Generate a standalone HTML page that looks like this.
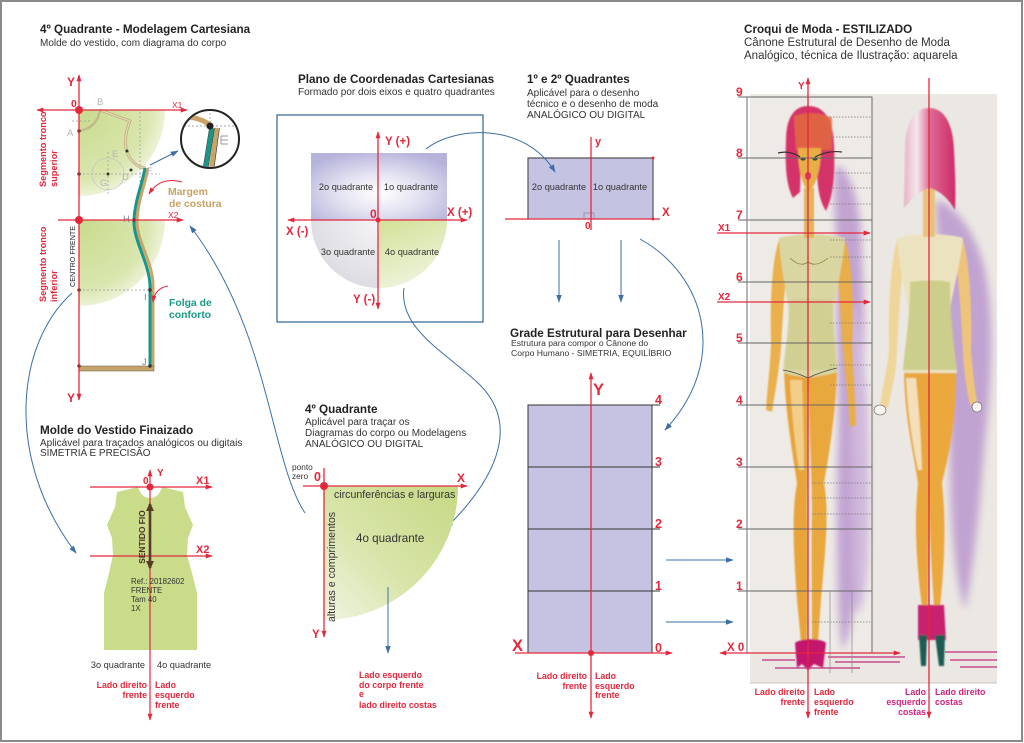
<!DOCTYPE html>
<html><head><meta charset="utf-8">
<style>
html,body{margin:0;padding:0;background:#fff;}
svg{display:block;}
text{font-family:"Liberation Sans",Arial,sans-serif;}
.t{font-weight:bold;font-size:11.7px;fill:#222;}
.s{font-size:10px;fill:#333;}
.s2{font-size:11.5px;fill:#333;}
.q{font-size:9.2px;fill:#333;}
.rl{font-weight:bold;font-size:8.8px;fill:#e3283c;}
.mg{font-weight:bold;font-size:8.8px;fill:#d0237e;}
.ax{font-weight:bold;fill:#e3283c;}
.gl{font-size:9.5px;fill:#b5b5b5;}
</style></head><body>
<svg width="1024" height="743" viewBox="0 0 1024 743" xmlns="http://www.w3.org/2000/svg">
<defs>
<marker id="r" viewBox="0 0 10 10" refX="9" refY="5" markerWidth="7" markerHeight="7" markerUnits="userSpaceOnUse" orient="auto-start-reverse"><path d="M0,1.5 L10,5 L0,8.5 z" fill="#e3283c"/></marker>
<marker id="b" viewBox="0 0 10 10" refX="9" refY="5" markerWidth="8" markerHeight="8" markerUnits="userSpaceOnUse" orient="auto-start-reverse"><path d="M0,1.5 L10,5 L0,8.5 z" fill="#3b6fa6"/></marker>
<marker id="br" viewBox="0 0 10 10" refX="8" refY="5" markerWidth="9" markerHeight="9" markerUnits="userSpaceOnUse" orient="auto-start-reverse"><path d="M0,0.5 L10,5 L0,9.5 z" fill="#5b3a29"/></marker>
<radialGradient id="gq1" cx="79" cy="110" r="86" gradientUnits="userSpaceOnUse"><stop offset="0" stop-color="#c8db8c"/><stop offset="0.8" stop-color="#d9e6ae"/><stop offset="1" stop-color="#ecf2d6"/></radialGradient>
<radialGradient id="gq2" cx="79" cy="220" r="86" gradientUnits="userSpaceOnUse"><stop offset="0" stop-color="#c8db8c"/><stop offset="0.8" stop-color="#d9e6ae"/><stop offset="1" stop-color="#ecf2d6"/></radialGradient>
<radialGradient id="lav" cx="0.5" cy="0.6" r="0.65"><stop offset="0" stop-color="#ffffff"/><stop offset="0.45" stop-color="#e4e3f2"/><stop offset="1" stop-color="#b5b3da"/></radialGradient>
<radialGradient id="gry" cx="379" cy="220" r="70" gradientUnits="userSpaceOnUse"><stop offset="0" stop-color="#f6f6f8"/><stop offset="1" stop-color="#dcdce2"/></radialGradient>
<linearGradient id="grn" x1="0" y1="0" x2="0.4" y2="1"><stop offset="0" stop-color="#d2e196"/><stop offset="1" stop-color="#eef3dc"/></linearGradient>
<linearGradient id="g4" x1="1" y1="0" x2="0" y2="1"><stop offset="0" stop-color="#c6d984"/><stop offset="0.55" stop-color="#d7e4a8"/><stop offset="1" stop-color="#f0f4e2"/></linearGradient>
<linearGradient id="hairb" x1="0" y1="0" x2="1" y2="0"><stop offset="0" stop-color="#e7b3c6"/><stop offset="0.25" stop-color="#f3e8ec"/><stop offset="0.5" stop-color="#de6b96"/><stop offset="1" stop-color="#cf2a66"/></linearGradient>
<filter id="f1" x="-10%" y="-10%" width="120%" height="120%"><feGaussianBlur stdDeviation="0.9"/></filter>
<filter id="f4" x="-50%" y="-20%" width="200%" height="140%"><feGaussianBlur stdDeviation="4"/></filter>
<clipPath id="cc"><circle cx="210" cy="139" r="28"/></clipPath>
</defs>
<rect x="0" y="0" width="1024" height="743" fill="#fff"/>
<rect x="1" y="1" width="1021" height="740" fill="none" stroke="#8a8a8a" stroke-width="2"/>

<!-- ============ LEFT TOP: 4º Quadrante modelagem ============ -->
<text x="40" y="33" class="t">4º Quadrante - Modelagem Cartesiana</text>
<text x="40" y="46" class="s">Molde do vestido, com diagrama do corpo</text>

<path d="M79,110 H165 A86,86 0 0 1 79,196 Z" fill="url(#gq1)"/>
<path d="M79,220 H165 A86,86 0 0 1 79,306 Z" fill="url(#gq2)"/>

<g stroke="#9a9a9a" stroke-width="0.7" stroke-dasharray="2,2" fill="none">
<line x1="72" y1="121" x2="92" y2="121"/>
<line x1="79" y1="174" x2="160" y2="174"/>
<line x1="140" y1="112" x2="140" y2="182"/>
<line x1="108" y1="152" x2="108" y2="196"/>
<line x1="79" y1="290" x2="150" y2="290"/>
</g>
<circle cx="108" cy="174" r="16" fill="none" stroke="#c4c4c4" stroke-width="0.7"/>

<path d="M79,131 Q97,128 100,110" stroke="#c4b98c" stroke-width="2.4" fill="none"/>
<path d="M100,110 L130,121 C124,135 124,150 130,158 C135,165 140,168 146,168" stroke="#c4b483" stroke-width="3" fill="none"/>
<path d="M100,110 L130,121 C124,135 124,150 130,158 C135,165 140,168 146,168" stroke="#e6e0bd" stroke-width="1" fill="none"/>
<path d="M148,168 C145,185 138,200 137,220 C136,240 153,262 153,285 L153,367" stroke="#c9a468" stroke-width="3" fill="none"/>
<path d="M145,168 C142,185 135,200 134,220 C133,240 149,262 150,285 L150,366" stroke="#17978a" stroke-width="3" fill="none"/>
<rect x="79" y="366" width="75" height="5" fill="#c4a46a" stroke="#6a5a3a" stroke-width="0.5"/>

<g fill="#333">
<circle cx="79" cy="131" r="1.7"/><circle cx="79" cy="174" r="1.7"/><circle cx="79" cy="290" r="1.7"/>
<circle cx="79" cy="366" r="1.7"/><circle cx="150" cy="366" r="1.7"/><circle cx="150" cy="290" r="1.7"/>
<circle cx="108" cy="174" r="1.5"/><circle cx="131" cy="170" r="1.5"/><circle cx="127" cy="151" r="1.5"/>
<circle cx="134" cy="220" r="1.7"/>
</g>
<text x="67" y="136" class="gl">A</text>
<text x="97" y="105" class="gl">B</text>
<text x="112" y="157" class="gl">E</text>
<text x="122" y="180" class="gl">D</text>
<text x="100" y="186" class="gl">G</text>
<text x="147" y="174" class="gl">F</text>
<text x="123" y="222" class="gl" fill="#888" style="fill:#888">H</text>
<text x="144" y="300" class="gl" style="fill:#888">I</text>
<text x="142" y="365" class="gl" style="fill:#888">J</text>

<!-- axes -->
<line x1="79" y1="75" x2="79" y2="400" stroke="#e3283c" stroke-width="1.3" marker-start="url(#r)" marker-end="url(#r)"/>
<line x1="37" y1="110" x2="187" y2="110" stroke="#e3283c" stroke-width="1.3" marker-start="url(#r)" marker-end="url(#r)"/>
<line x1="58" y1="220" x2="183" y2="220" stroke="#e3283c" stroke-width="1.3" marker-end="url(#r)"/>
<circle cx="79" cy="110" r="4" fill="#e3283c"/>
<circle cx="79" cy="220" r="4" fill="#e3283c"/>
<text x="67" y="86" class="ax" font-size="12">Y</text>
<text x="71" y="107" class="ax" font-size="10.5">0</text>
<text x="172" y="108" class="ax" font-size="8.5" style="font-weight:normal">X1</text>
<text x="168" y="218" class="ax" font-size="8.5" style="font-weight:normal">X2</text>
<text x="67" y="402" class="ax" font-size="12">Y</text>

<text transform="rotate(-90 46 187)" x="46" y="187" font-size="9.2" font-weight="bold" fill="#e3283c">Segmento tronco</text>
<text transform="rotate(-90 57 187)" x="57" y="187" font-size="9.2" font-weight="bold" fill="#e3283c">superior</text>
<text transform="rotate(-90 46 302)" x="46" y="302" font-size="9.2" font-weight="bold" fill="#e3283c">Segmento tronco</text>
<text transform="rotate(-90 57 302)" x="57" y="302" font-size="9.2" font-weight="bold" fill="#e3283c">inferior</text>
<text transform="rotate(-90 75 287)" x="75" y="287" font-size="7.2" fill="#222">CENTRO FRENTE</text>

<!-- inset circle -->
<circle cx="210" cy="139" r="29" fill="#fff" stroke="#222" stroke-width="2"/>
<g clip-path="url(#cc)">
<line x1="180" y1="126" x2="240" y2="126" stroke="#888" stroke-dasharray="2,2" stroke-width="0.7"/>
<line x1="210" y1="105" x2="210" y2="125" stroke="#888" stroke-dasharray="2,2" stroke-width="0.7"/>
<path d="M180,117 Q198,116 210,125" stroke="#c9a468" stroke-width="5" fill="none"/>
<path d="M217,128 L211,172" stroke="#c9a468" stroke-width="5"/>
<path d="M212,128 L205,172" stroke="#17978a" stroke-width="4.5"/>
<path d="M209.5,128 L202.5,172 M214.5,128 L207.5,172 M219.5,128 L213.5,172" stroke="#333" stroke-width="0.6"/>
<circle cx="210" cy="126" r="3.5" fill="#222"/>
<path d="M221,136 h7 M221,140 h7 M221,144 h7 M221,136 v8" stroke="#999" stroke-width="1"/>
</g>
<line x1="150" y1="165" x2="178" y2="151" stroke="#3b6fa6" stroke-width="1" marker-end="url(#b)"/>

<path d="M182,182 Q160,176 149,194" stroke="#e3283c" stroke-width="1" fill="none" marker-end="url(#r)"/>
<path d="M168,286 Q155,288 153,302" stroke="#e3283c" stroke-width="1" fill="none" marker-end="url(#r)"/>
<text x="168" y="195" font-size="10.4" font-weight="bold" fill="#c7a162">Margem</text>
<text x="169" y="207" font-size="10.4" font-weight="bold" fill="#c7a162">de costura</text>
<text x="169" y="306" font-size="10.4" font-weight="bold" fill="#1a9a86">Folga de</text>
<text x="169" y="318" font-size="10.4" font-weight="bold" fill="#1a9a86">conforto</text>

<!-- blue connector arcs left -->
<path d="M72,293 C15,345 5,460 76,553" stroke="#3b6fa6" stroke-width="1" fill="none" marker-end="url(#b)"/>
<path d="M305,513 C270,460 270,330 190,226" stroke="#3b6fa6" stroke-width="1" fill="none" marker-end="url(#b)"/>

<!-- ============ LEFT BOTTOM: Molde do vestido ============ -->
<text x="40" y="434" class="t">Molde do Vestido Finaizado</text>
<text x="40" y="446" class="s">Aplicável para traçados analógicos ou digitais</text>
<text x="40" y="456" class="s">SIMETRIA E PRECISÃO</text>

<path d="M117,492 L138,487 C140,494 144,498 150,498 C156,498 160,494 162,487 L183,492 L185,507 L193,525 L188,538 L187,555 L192,573 L197,593 L197,650 L104,650 L104,593 L109,573 L113,555 L112,538 L107,525 L115,507 Z" fill="#c8dc8a"/>
<line x1="150" y1="470" x2="150" y2="720" stroke="#e3283c" stroke-width="1.2" marker-start="url(#r)" marker-end="url(#r)"/>
<line x1="90" y1="487" x2="212" y2="487" stroke="#e3283c" stroke-width="1.2" marker-end="url(#r)"/>
<line x1="90" y1="556" x2="212" y2="556" stroke="#e3283c" stroke-width="1.2" marker-end="url(#r)"/>
<circle cx="150" cy="487" r="3.5" fill="#e3283c"/>
<text x="157" y="476" class="ax" font-size="10">Y</text>
<text x="143" y="484" class="ax" font-size="10">0</text>
<text x="196" y="484" class="ax" font-size="11">X1</text>
<text x="196" y="553" class="ax" font-size="11">X2</text>
<line x1="150" y1="504" x2="150" y2="568" stroke="#5b3a29" stroke-width="2.6" marker-start="url(#br)" marker-end="url(#br)"/>
<text transform="rotate(-90 145 537)" x="145" y="537" text-anchor="middle" font-size="8.4" font-weight="bold" fill="#4a3020">SENTIDO FIO</text>
<text x="131" y="584" font-size="7.8" fill="#333">Ref.: 20182602</text>
<text x="131" y="593" font-size="7.8" fill="#333">FRENTE</text>
<text x="131" y="602" font-size="7.8" fill="#333">Tam 40</text>
<text x="131" y="611" font-size="7.8" fill="#333">1X</text>
<text x="145" y="668" text-anchor="end" class="q">3o quadrante</text>
<text x="157" y="668" class="q">4o quadrante</text>
<text x="147" y="688" text-anchor="end" class="rl">Lado direito</text>
<text x="147" y="698" text-anchor="end" class="rl">frente</text>
<text x="155" y="688" class="rl">Lado</text>
<text x="155" y="698" class="rl">esquerdo</text>
<text x="155" y="708" class="rl">frente</text>

<!-- ============ PLANO ============ -->
<text x="298" y="83" class="t">Plano de Coordenadas Cartesianas</text>
<text x="298" y="95" class="s">Formado por dois eixos e quatro quadrantes</text>
<rect x="277" y="115" width="206" height="207" fill="none" stroke="#3f6e9c" stroke-width="1.3"/>
<rect x="311" y="153" width="136" height="67" fill="url(#lav)"/>
<path d="M311,220 A68,68 0 0 0 379,288 L379,220 Z" fill="url(#gry)"/>
<path d="M379,220 L379,288 A68,68 0 0 0 447,220 Z" fill="url(#grn)"/>
<line x1="378" y1="132" x2="378" y2="309" stroke="#e3283c" stroke-width="1.3" marker-start="url(#r)" marker-end="url(#r)"/>
<line x1="288" y1="220" x2="467" y2="220" stroke="#e3283c" stroke-width="1.3" marker-start="url(#r)" marker-end="url(#r)"/>
<circle cx="378" cy="220" r="2.5" fill="#e3283c"/>
<text x="385" y="145" class="ax" font-size="11.5">Y (+)</text>
<text x="353" y="303" class="ax" font-size="11.5">Y (-)</text>
<text x="447" y="216" class="ax" font-size="11.5">X (+)</text>
<text x="286" y="235" class="ax" font-size="11.5">X (-)</text>
<text x="370" y="218" class="ax" font-size="12">0</text>
<text x="346" y="190" text-anchor="middle" class="q">2o quadrante</text>
<text x="411" y="190" text-anchor="middle" class="q">1o quadrante</text>
<text x="348" y="255" text-anchor="middle" class="q">3o quadrante</text>
<text x="412" y="255" text-anchor="middle" class="q">4o quadrante</text>

<!-- ============ 1º e 2º ============ -->
<text x="527" y="83" class="t">1º e 2º Quadrantes</text>
<text x="527" y="96" class="s">Aplicável para o desenho</text>
<text x="527" y="107" class="s">técnico e o desenho de moda</text>
<text x="527" y="118" class="s">ANALÓGICO OU DIGITAL</text>
<rect x="528" y="158" width="125" height="61" fill="#c5c3e2"/>
<path d="M528,219 V158 H653 V219" fill="none" stroke="#555" stroke-width="1.2"/>
<rect x="584" y="213" width="10" height="6" fill="none" stroke="#888" stroke-width="0.7"/>
<line x1="591" y1="137" x2="591" y2="230" stroke="#e3283c" stroke-width="1.3"/>
<line x1="505" y1="219" x2="660" y2="219" stroke="#e3283c" stroke-width="1.3"/>
<circle cx="653" cy="158" r="1.5" fill="#e3283c"/><circle cx="653" cy="219" r="1.5" fill="#e3283c"/>
<text x="595" y="145" class="ax" font-size="11">y</text>
<text x="662" y="216" class="ax" font-size="11.5">X</text>
<text x="585" y="229" class="ax" font-size="10">0</text>
<text x="559" y="190" text-anchor="middle" class="q">2o quadrante</text>
<text x="620" y="190" text-anchor="middle" class="q">1o quadrante</text>

<!-- blue connectors middle -->
<path d="M426,149 C455,126 525,122 555,172" stroke="#3b6fa6" stroke-width="1" fill="none" marker-end="url(#b)"/>
<line x1="559" y1="240" x2="559" y2="302" stroke="#3b6fa6" stroke-width="1" marker-end="url(#b)"/>
<line x1="621" y1="240" x2="621" y2="302" stroke="#3b6fa6" stroke-width="1" marker-end="url(#b)"/>
<path d="M640,239 C705,275 730,360 665,430" stroke="#3b6fa6" stroke-width="1" fill="none" marker-end="url(#b)"/>
<path d="M404,288 C398,330 450,355 480,385 C515,420 505,470 446,528" stroke="#3b6fa6" stroke-width="1" fill="none" marker-end="url(#b)"/>

<!-- ============ GRADE ============ -->
<text x="510" y="337" class="t">Grade Estrutural para Desenhar</text>
<text x="511" y="346" font-size="8.6" fill="#333">Estrutura para compor o Cânone do</text>
<text x="511" y="356" font-size="8.6" fill="#333">Corpo Humano - SIMETRIA, EQUILÍBRIO</text>
<rect x="528" y="405" width="124" height="248" fill="#c6c3e2" stroke="#333" stroke-width="1"/>
<g stroke="#333" stroke-width="1">
<line x1="528" y1="405" x2="660" y2="405"/>
<line x1="528" y1="467" x2="660" y2="467"/>
<line x1="528" y1="529" x2="660" y2="529"/>
<line x1="528" y1="591" x2="660" y2="591"/>
</g>
<line x1="591" y1="373" x2="591" y2="718" stroke="#e3283c" stroke-width="1.3" marker-start="url(#r)" marker-end="url(#r)"/>
<line x1="515" y1="653" x2="672" y2="653" stroke="#e3283c" stroke-width="1.3" marker-end="url(#r)"/>
<circle cx="591" cy="653" r="3" fill="#e3283c"/>
<text x="593" y="395" class="ax" font-size="16.5">Y</text>
<text x="512" y="651" class="ax" font-size="16.5">X</text>
<text x="655" y="404" class="ax" font-size="12.5">4</text>
<text x="655" y="466" class="ax" font-size="12.5">3</text>
<text x="655" y="528" class="ax" font-size="12.5">2</text>
<text x="655" y="590" class="ax" font-size="12.5">1</text>
<text x="655" y="652" class="ax" font-size="12.5">0</text>
<text x="587" y="679" text-anchor="end" class="rl">Lado direito</text>
<text x="587" y="689" text-anchor="end" class="rl">frente</text>
<text x="595" y="679" class="rl">Lado</text>
<text x="595" y="689" class="rl">esquerdo</text>
<text x="595" y="698" class="rl">frente</text>
<line x1="666" y1="560" x2="733" y2="560" stroke="#3b6fa6" stroke-width="1" marker-end="url(#b)"/>
<line x1="666" y1="622" x2="733" y2="622" stroke="#3b6fa6" stroke-width="1" marker-end="url(#b)"/>

<!-- ============ 4º QUADRANTE ============ -->
<text x="305" y="413" class="t">4º Quadrante</text>
<text x="305" y="425" class="s">Aplicável para traçar os</text>
<text x="305" y="436" class="s">Diagramas do corpo ou Modelagens</text>
<text x="305" y="447" class="s">ANALÓGICO OU DIGITAL</text>
<path d="M324,486 H458 A134,134 0 0 1 324,620 Z" fill="url(#g4)"/>
<line x1="303" y1="486" x2="467" y2="486" stroke="#e3283c" stroke-width="1.3" marker-end="url(#r)"/>
<line x1="324" y1="468" x2="324" y2="637" stroke="#e3283c" stroke-width="1.3" marker-end="url(#r)"/>
<circle cx="324" cy="486" r="4" fill="#e3283c"/>
<text x="292" y="470" font-size="8.3" fill="#333">ponto</text>
<text x="292" y="479" font-size="8.3" fill="#333">zero</text>
<text x="314" y="481" class="ax" font-size="12.5">0</text>
<text x="457" y="482" class="ax" font-size="12">X</text>
<text x="312" y="638" class="ax" font-size="11.5">Y</text>
<text x="334" y="498" font-size="10.6" fill="#333">circunferências e larguras</text>
<text x="356" y="542" font-size="11.6" fill="#333">4o quadrante</text>
<text transform="rotate(-90 335 622)" x="335" y="622" font-size="10.6" fill="#333">alturas e comprimentos</text>
<line x1="388" y1="587" x2="388" y2="653" stroke="#3b6fa6" stroke-width="1" marker-end="url(#b)"/>
<text x="359" y="678" class="rl">Lado esquerdo</text>
<text x="359" y="688" class="rl">do corpo frente</text>
<text x="359" y="697" class="rl">e</text>
<text x="359" y="708" class="rl">lado direito costas</text>

<!-- ============ CROQUI ============ -->
<text x="744" y="33" class="t">Croqui de Moda - ESTILIZADO</text>
<text x="744" y="46" class="s2">Cânone Estrutural de Desenho de Moda</text>
<text x="744" y="59" class="s2">Analógico, técnica de Ilustração: aquarela</text>

<rect x="750" y="94" width="247" height="589" fill="#ebe8e3"/>
<rect x="750" y="97" width="122" height="556" fill="#eeebe7"/>
<!-- shadows -->
<g filter="url(#f4)" opacity="0.75">
<path d="M836,165 C850,170 862,200 862,260 C866,330 864,420 860,520 C858,580 852,640 842,650 C836,600 836,520 838,440 C840,380 834,330 838,280 C836,230 832,190 836,165 Z" fill="#b48ccb"/>
<path d="M936,200 C955,205 975,230 985,270 C995,320 992,380 985,440 C980,500 975,560 965,610 C955,580 950,520 950,460 C948,400 945,340 944,290 C940,250 934,220 936,200 Z" fill="#b48ccb"/>
<path d="M850,300 C865,320 872,420 868,560 C865,600 860,620 855,610 C853,500 852,400 850,300 Z" fill="#c7a8da"/>
</g>
<!-- front figure -->
<g filter="url(#f1)">
<path d="M779,240 C772,260 770,300 771,345 C770,370 767,390 766,410 L772,412 C775,392 779,372 781,348 C783,310 786,275 788,250 Z" fill="#e9b04c"/>
<path d="M845,240 C852,260 854,300 852,345 C853,370 855,395 856,425 L850,427 C848,398 845,372 843,348 C840,310 838,275 836,250 Z" fill="#e9ae48"/>
<path d="M784,368 C785,410 792,450 797,483 C792,510 793,545 797,600 L801,642 L807,642 C808,600 808,545 807,510 C808,480 808,420 808,378 Z" fill="#e8a43a"/>
<path d="M808,378 C809,420 812,480 812,510 C811,545 812,600 812,642 L818,642 L821,600 C826,545 829,510 824,483 C830,450 836,410 837,368 Z" fill="#e9a83e"/>
<path d="M790,380 C792,420 796,450 799,470 L804,470 C804,440 803,410 802,380 Z" fill="#f3d9a0" opacity="0.8"/>
<path d="M779,238 C795,233 825,233 845,238 C843,262 838,285 834,305 C832,330 838,350 837,372 C825,376 815,376 808,378 C800,376 790,376 783,372 C784,350 790,330 788,305 C785,285 780,262 779,238 Z" fill="#d9d6a2"/>
<path d="M790,300 C800,298 820,298 832,300 C832,330 836,350 836,370 L784,370 C786,345 790,320 790,300 Z" fill="#cfcd8e" opacity="0.8"/>
<rect x="804" y="188" width="10" height="50" fill="#e3b35a"/>
<path d="M808,106 C793,106 786,120 786,140 C785,165 786,185 793,198 L800,192 L801,160 L816,160 L817,175 C818,190 820,202 826,211 C834,195 835,170 834,145 C833,120 825,106 808,106 Z" fill="#d6336a"/>
<path d="M794,116 C805,112 822,112 832,118 L832,150 L796,150 Z" fill="#e26b3e" opacity="0.85"/>
<path d="M798,148 C798,170 802,185 809,192 C816,185 821,170 821,148 Z" fill="#e8ae45"/>
<path d="M795,643 C800,638 822,638 826,643 L823,668 L814,664 L808,670 L802,664 L797,668 Z" fill="#c5176e"/>
</g>
<path d="M778,153 Q790,150 800,157 M815,157 Q828,150 842,152" stroke="#333" stroke-width="1.2" fill="none"/>
<ellipse cx="803" cy="159" rx="2.5" ry="1.6" fill="#3a4a4a"/>
<ellipse cx="815" cy="159" rx="2.5" ry="1.6" fill="#3a4a4a"/>
<ellipse cx="808" cy="176" rx="3" ry="4" fill="#e0336a"/>
<path d="M790,258 Q800,268 808,262 Q816,268 828,258" stroke="#8a8040" stroke-width="0.8" fill="none"/>
<path d="M783,370 Q795,372 808,378 Q820,372 837,368" stroke="#444" stroke-width="0.8" fill="none"/>
<!-- back figure -->
<g filter="url(#f1)">
<path d="M897,240 C890,265 888,310 889,350 C886,375 882,390 880,405 L888,408 C892,390 896,375 897,350 C899,310 902,275 905,250 Z" fill="#f0d59a"/>
<path d="M963,240 C970,265 972,310 971,350 C973,375 975,390 977,402 L970,405 C967,390 964,375 963,350 C961,310 958,275 955,250 Z" fill="#eec47a"/>
<path d="M904,373 C905,420 913,450 918,483 C914,520 916,560 922,607 L928,607 C929,560 929,520 929,483 L929,373 Z" fill="#e9a63e"/>
<path d="M929,373 L929,483 C929,520 931,560 934,607 L940,607 C945,560 946,520 942,483 C950,450 956,420 956,373 Z" fill="#eaa83e"/>
<path d="M906,378 C908,420 914,450 918,470 L922,470 C921,430 918,400 916,378 Z" fill="#f4e6c6" opacity="0.9"/>
<path d="M897,238 C912,233 948,233 963,238 C960,265 953,290 950,310 C950,335 956,355 957,373 L903,373 C904,355 910,335 908,310 C905,290 899,265 897,238 Z" fill="#ebe3c0"/>
<path d="M910,282 C925,280 940,280 950,282 C950,320 955,350 957,370 L903,370 C905,345 910,320 910,282 Z" fill="#c9cb86" opacity="0.9"/>
<rect x="923" y="187" width="12" height="50" fill="#e8c27a"/>
<path d="M929,108 C913,108 905,125 905,150 C905,175 904,195 904,208 C913,198 921,190 929,188 C939,190 948,198 955,210 C956,190 955,170 954,150 C953,125 945,108 929,108 Z" fill="url(#hairb)"/>
<path d="M918,605 L944,605 L946,640 L918,640 Z" fill="#c8206e"/>
<path d="M919,635 L927,635 L926,666 L921,666 Z M935,635 L945,635 L944,666 L939,666 Z" fill="#1f5c52"/>
</g>
<ellipse cx="880" cy="410" rx="6" ry="5" fill="#f8f4ee" stroke="#555" stroke-width="0.6"/>
<ellipse cx="977" cy="407" rx="5" ry="5" fill="#f8f4ee" stroke="#555" stroke-width="0.6"/>
<g stroke="#c2307e" stroke-width="1.4" opacity="0.85">
<line x1="762" y1="660" x2="795" y2="660"/>
<line x1="828" y1="657" x2="905" y2="657"/>
<line x1="835" y1="662" x2="900" y2="662"/>
<line x1="945" y1="652" x2="997" y2="652"/>
<line x1="950" y1="660" x2="997" y2="660"/>
<line x1="775" y1="668" x2="860" y2="668"/>
<line x1="960" y1="667" x2="997" y2="667"/>
</g>
<!-- grid -->
<rect x="747" y="97" width="125" height="556" fill="none" stroke="#6d6d6d" stroke-width="1"/>
<g stroke="#666" stroke-width="1">
<line x1="738" y1="97" x2="872" y2="97"/>
<line x1="738" y1="158" x2="872" y2="158"/>
<line x1="738" y1="220" x2="872" y2="220"/>
<line x1="738" y1="282" x2="872" y2="282"/>
<line x1="738" y1="343" x2="872" y2="343"/>
<line x1="738" y1="405" x2="872" y2="405"/>
<line x1="738" y1="467" x2="872" y2="467"/>
<line x1="738" y1="529" x2="872" y2="529"/>
<line x1="738" y1="591" x2="872" y2="591"/>
</g>
<g stroke="#777" stroke-width="0.7" stroke-dasharray="1.5,1.5">
<line x1="830" y1="117" x2="872" y2="117"/>
<line x1="830" y1="137" x2="872" y2="137"/>
<line x1="830" y1="173" x2="872" y2="173"/>
<line x1="830" y1="188" x2="872" y2="188"/>
<line x1="830" y1="204" x2="872" y2="204"/>
<line x1="830" y1="240" x2="872" y2="240"/>
<line x1="830" y1="257" x2="872" y2="257"/>
<line x1="830" y1="323" x2="872" y2="323"/>
<line x1="830" y1="365" x2="872" y2="365"/>
<line x1="830" y1="385" x2="872" y2="385"/>
<line x1="812" y1="483" x2="872" y2="483"/>
<line x1="812" y1="498" x2="872" y2="498"/>
<line x1="812" y1="514" x2="872" y2="514"/>
<line x1="812" y1="622" x2="872" y2="622"/>
</g>
<line x1="830" y1="591" x2="830" y2="673" stroke="#888" stroke-width="0.7"/>
<line x1="852" y1="591" x2="852" y2="673" stroke="#888" stroke-width="0.7"/>
<line x1="750" y1="683" x2="997" y2="683" stroke="#c8c0c0" stroke-width="1"/>
<!-- red axes -->
<line x1="808" y1="78" x2="808" y2="718" stroke="#e3283c" stroke-width="1.3" marker-start="url(#r)" marker-end="url(#r)"/>
<line x1="929" y1="78" x2="929" y2="718" stroke="#e3283c" stroke-width="1.3" marker-end="url(#r)"/>
<line x1="717" y1="233" x2="870" y2="233" stroke="#e3283c" stroke-width="1.3" marker-end="url(#r)"/>
<line x1="717" y1="302" x2="870" y2="302" stroke="#e3283c" stroke-width="1.3" marker-end="url(#r)"/>
<line x1="720" y1="653" x2="900" y2="653" stroke="#e3283c" stroke-width="1.3" marker-start="url(#r)" marker-end="url(#r)"/>
<text x="798" y="89" class="ax" font-size="10">Y</text>
<g class="ax" font-size="12">
<text x="736" y="96">9</text>
<text x="736" y="157">8</text>
<text x="736" y="219">7</text>
<text x="736" y="281">6</text>
<text x="736" y="342">5</text>
<text x="736" y="404">4</text>
<text x="736" y="466">3</text>
<text x="736" y="528">2</text>
<text x="736" y="590">1</text>
</g>
<text x="718" y="231" class="ax" font-size="10">X1</text>
<text x="718" y="300" class="ax" font-size="10">X2</text>
<text x="727" y="651" class="ax" font-size="11.5">X 0</text>
<text x="805" y="695" text-anchor="end" class="rl">Lado direito</text>
<text x="805" y="705" text-anchor="end" class="rl">frente</text>
<text x="814" y="695" class="rl">Lado</text>
<text x="814" y="705" class="rl">esquerdo</text>
<text x="814" y="715" class="rl">frente</text>
<text x="926" y="695" text-anchor="end" class="mg">Lado</text>
<text x="926" y="705" text-anchor="end" class="mg">esquerdo</text>
<text x="926" y="715" text-anchor="end" class="mg">costas</text>
<text x="935" y="695" class="mg">Lado direito</text>
<text x="935" y="705" class="mg">costas</text>
</svg>
</body></html>
